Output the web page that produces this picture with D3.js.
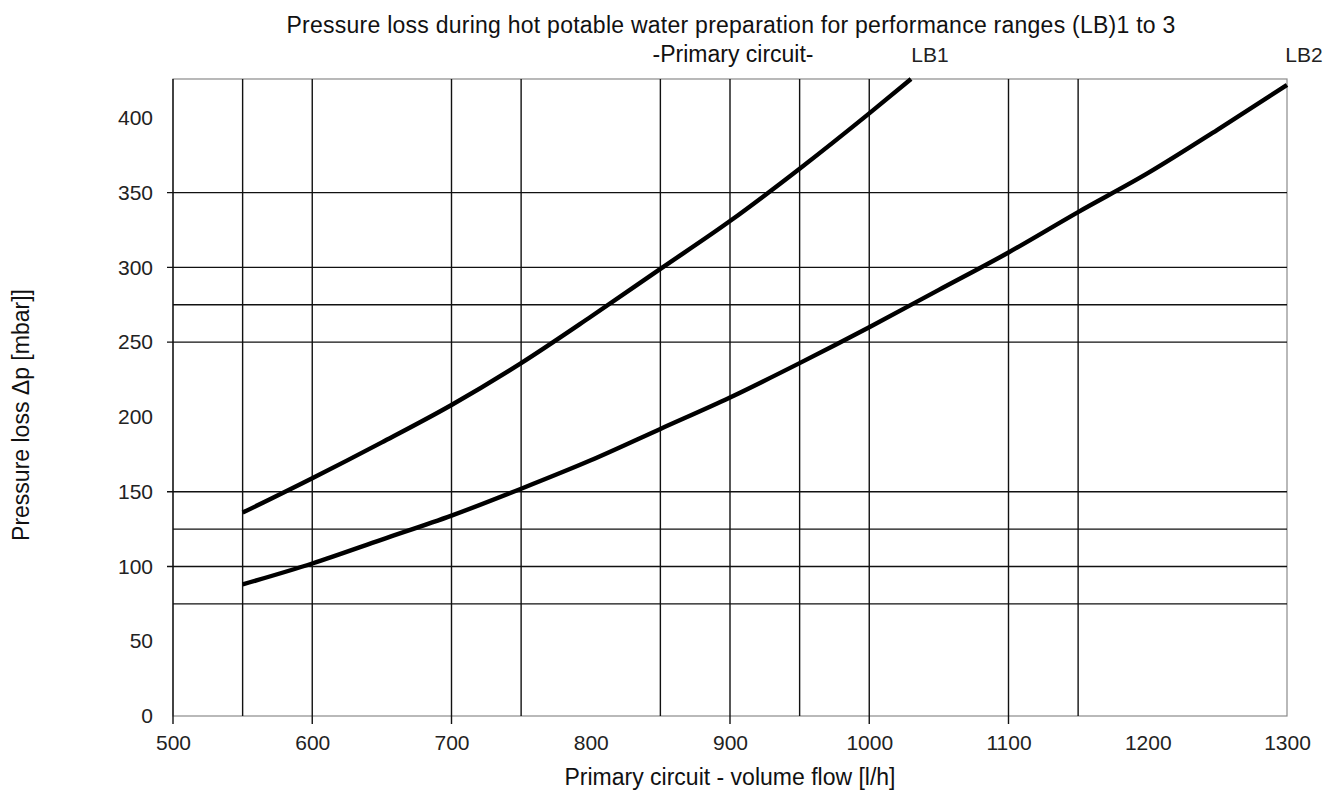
<!DOCTYPE html>
<html>
<head>
<meta charset="utf-8">
<script src="https://cdn.jsdelivr.net/npm/d3@7/dist/d3.min.js"></script>
<style>
  html, body { margin: 0; padding: 0; background: #fff; }
  svg { display: block; font-family: "Liberation Sans", Arial, sans-serif; }
</style>
</head>
<body>
<svg id="chart" width="1341" height="793"></svg>
<script>
// ---- data ----
const xTicks = [500, 600, 700, 800, 900, 1000, 1100, 1200, 1300];
const yTicks = [0, 50, 100, 150, 200, 250, 300, 350, 400];
const vGrid = [550, 600, 700, 750, 850, 900, 950, 1000, 1100, 1150];
const hGrid = [75, 100, 125, 150, 250, 275, 300, 350];
const flowLB1 = [550, 600, 650, 700, 750, 800, 850, 900, 950, 1000, 1030];
const lossLB1 = [136, 159, 183, 208, 236, 267, 299, 331, 366, 403, 426];
const flowLB2 = [550, 600, 650, 700, 750, 800, 850, 900, 950, 1000, 1050, 1100, 1150, 1200, 1250, 1300];
const lossLB2 = [88, 102, 118, 134, 152, 171, 192, 213, 236, 260, 285, 310, 337, 363, 392, 422];
const titleLine1 = "Pressure loss during hot potable water preparation for performance ranges (LB)1 to 3";
const titleLine2 = "-Primary circuit-";
const xTitle = "Primary circuit - volume flow [l/h]";
const yTitle = "Pressure loss \u0394p [mbar]]";
const seriesLabels = ["LB1", "LB2"];

(function () {
// ---- layout ----
const svg = d3.select("#chart");
const pLeft = 173, pRight = 1287, pTop = 79, pBottom = 716;
const x = d3.scaleLinear().domain([500, 1300]).range([pLeft, pRight]);
const y = d3.scaleLinear().domain([0, 426]).range([pBottom, pTop]);

// frame (gray)
svg.append("rect")
  .attr("x", pLeft).attr("y", pTop)
  .attr("width", pRight - pLeft).attr("height", pBottom - pTop)
  .attr("fill", "none").attr("stroke", "#8a8a8a").attr("stroke-width", 1.2);

// vertical grid
svg.append("g").selectAll("line").data(vGrid).join("line")
  .attr("x1", d => x(d)).attr("x2", d => x(d))
  .attr("y1", pTop).attr("y2", d => d % 100 === 0 ? pBottom + 8 : pBottom)
  .attr("stroke", "#111").attr("stroke-width", 1.4);

// horizontal grid
svg.append("g").selectAll("line").data(hGrid).join("line")
  .attr("y1", d => y(d)).attr("y2", d => y(d))
  .attr("x1", d => d % 50 === 0 ? pLeft - 6 : pLeft).attr("x2", pRight)
  .attr("stroke", "#111").attr("stroke-width", 1.4);

// left axis line
svg.append("line")
  .attr("x1", pLeft).attr("x2", pLeft)
  .attr("y1", pTop).attr("y2", pBottom + 8)
  .attr("stroke", "#111").attr("stroke-width", 1.4);

// axes labels via d3 axes
const xAxis = svg.append("g")
  .attr("transform", `translate(0,${pBottom})`)
  .call(d3.axisBottom(x).tickValues(xTicks).tickSize(0).tickPadding(19).tickFormat(d3.format("d")));
xAxis.select(".domain").remove();
xAxis.selectAll("text").attr("font-size", 21).attr("fill", "#222")
  .attr("font-family", "'Liberation Sans', Arial, sans-serif");

const yAxis = svg.append("g")
  .attr("transform", `translate(${pLeft},0)`)
  .call(d3.axisLeft(y).tickValues(yTicks).tickSize(0).tickPadding(20).tickFormat(d3.format("d")));
yAxis.select(".domain").remove();
yAxis.selectAll("text").attr("font-size", 21).attr("fill", "#222")
  .attr("font-family", "'Liberation Sans', Arial, sans-serif");

// curves
const line = d3.line().x(d => x(d[0])).y(d => y(d[1])).curve(d3.curveMonotoneX);
const s1 = flowLB1.map((f, i) => [f, lossLB1[i]]);
const s2 = flowLB2.map((f, i) => [f, lossLB2[i]]);
[s1, s2].forEach(s => {
  svg.append("path").datum(s).attr("d", line)
    .attr("fill", "none").attr("stroke", "#000").attr("stroke-width", 4.4)
    .attr("stroke-linecap", "butt");
});

// titles
svg.append("text").attr("x", 731).attr("y", 33).attr("text-anchor", "middle")
  .attr("font-size", 23).attr("letter-spacing", 0.25).attr("fill", "#111").text(titleLine1);
svg.append("text").attr("x", 733).attr("y", 62).attr("text-anchor", "middle")
  .attr("font-size", 23).attr("fill", "#111").text(titleLine2);

// series labels
svg.append("text").attr("x", 930).attr("y", 62).attr("text-anchor", "middle")
  .attr("font-size", 21).attr("fill", "#222").text(seriesLabels[0]);
svg.append("text").attr("x", 1304).attr("y", 62).attr("text-anchor", "middle")
  .attr("font-size", 21).attr("fill", "#222").text(seriesLabels[1]);

// axis titles
svg.append("text").attr("x", 730).attr("y", 785).attr("text-anchor", "middle")
  .attr("font-size", 23).attr("fill", "#111").text(xTitle);
svg.append("text")
  .attr("transform", "translate(29,415) rotate(-90)")
  .attr("text-anchor", "middle")
  .attr("font-size", 23).attr("fill", "#111").text(yTitle);
})();
</script>
</body>
</html>
